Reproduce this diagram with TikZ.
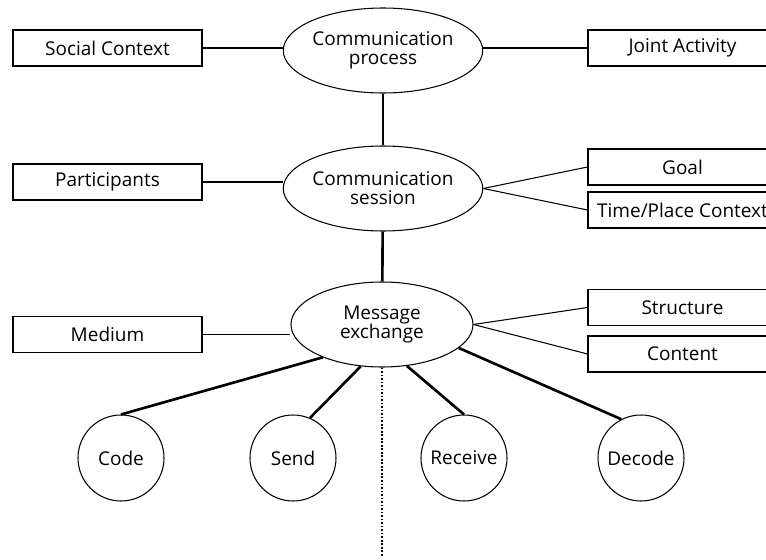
\documentclass[tikz,border=0pt]{standalone}
\usepackage{fontspec}
\setmainfont{Open Sans}
\usetikzlibrary{shapes.geometric}

\begin{document}
\begin{tikzpicture}[
  aspect/.style={rectangle, draw, line width=0.6pt, minimum width=3.78cm, minimum height=0.72cm, inner sep=0pt},
  level/.style={ellipse, draw, line width=0.6pt, minimum width=3.64cm, minimum height=1.7cm, inner sep=0pt, align=center},
  action/.style={circle, draw, line width=0.6pt, minimum size=1.72cm, inner sep=0pt},
  link/.style={line width=0.6pt},
  strong/.style={line width=1.5pt},
  font=\fontsize{10.8}{10.8}\selectfont
]
\useasboundingbox (0,0) rectangle (15.32,-11.2);
\clip (0,0) rectangle (15.32,-11.2);

% Middle column - levels
\node[level] (process) at (7.66,-1.01) {Communication\\process};
\node[level] (session) at (7.66,-3.77) {Communication\\session};
\node[level] (exchange) at (7.64,-6.49) {Message\\exchange};

% Left column
\node[aspect] (social) at (2.15,-0.96) {Social Context};
\node[aspect] (participants) at (2.15,-3.64) {Participants};
\node[aspect] (medium) at (2.15,-6.69) {Medium};

% Right column
\node[aspect] (joint) at (13.65,-0.96) {Joint Activity};
\node[aspect] (goal) at (13.65,-3.34) {Goal};
\node[aspect] (timeplace) at (13.65,-4.2) {Time/Place Context};
\node[aspect] (structure) at (13.65,-6.15) {Structure};
\node[aspect] (content) at (13.65,-7.08) {Content};

% Bottom row - actions
\node[action] (code) at (2.42,-9.16) {Code};
\node[action] (send) at (5.86,-9.16) {Send};
\node[action] (receive) at (9.28,-9.16) {Receive};
\node[action] (decode) at (12.82,-9.16) {Decode};
\coordinate (timeline) at (7.64,-11.14);

% Thin links
\draw[link] (social.east) -- (social.east -| process.west);
\draw[link] (joint.west -| process.east) -- (joint.west);
\draw[link] (participants.east) -- (participants.east -| session.west);
\draw[link] (session.east) -- (goal.west);
\draw[link] (session.east) -- (timeplace.west);
\draw[link] (medium.east) -- (medium.east -| exchange.west);
\draw[link] (exchange.east) -- (structure.west);
\draw[link] (exchange.east) -- (content.west);

% Thick links
\draw[strong] (process) -- (session);
\draw[strong] (session) -- (exchange);
\draw[strong] (exchange.209) -- (code.north);
\draw[strong] (exchange.243) -- (send.67);
\draw[strong] (exchange.301) -- (receive.north);
\draw[strong] (exchange.343) -- (decode.117);

\draw[link, dash pattern=on 1pt off 1pt] (exchange.south) -- (timeline);

\end{tikzpicture}
\end{document}
